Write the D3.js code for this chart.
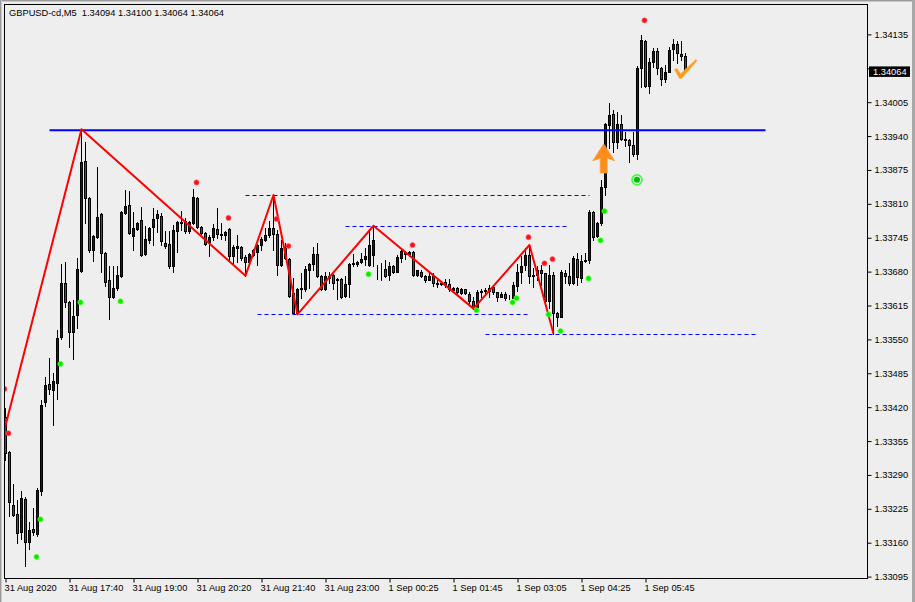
<!DOCTYPE html>
<html><head><meta charset="utf-8">
<script src="https://cdn.jsdelivr.net/npm/d3@7"></script>
<style>
html,body{margin:0;padding:0;background:#eeeeee;overflow:hidden;}
svg{display:block;}
text{font-family:"Liberation Sans",Arial,sans-serif;}
</style></head><body>
<svg id="c" width="915" height="602"></svg>
<script>
// ---------------- DATA ----------------
const titleText = "GBPUSD-cd,M5  1.34094 1.34100 1.34064 1.34064";
const opens = [
1.33402,1.33334,1.33233,1.33216,1.33181,1.33244,1.33161,1.33186,1.33176,1.33260,
1.33430,1.33465,1.33452,1.33466,1.33554,1.33659,1.33621,1.33565,1.33597,1.33682,
1.33892,1.33821,1.33722,1.33747,1.33791,1.33716,1.33664,1.33631,1.33648,1.33672,
1.33792,1.33807,1.33749,1.33761,1.33779,1.33714,1.33741,1.33765,1.33782,1.33787,
1.33735,1.33733,1.33691,1.33757,1.33774,1.33777,1.33757,1.33773,1.33821,1.33765,
1.33754,1.33736,1.33746,1.33761,1.33752,1.33750,1.33761,1.33709,1.33725,1.33727,
1.33708,1.33699,1.33712,1.33718,1.33731,1.33740,1.33751,1.33763,1.33752,1.33692,
1.33728,1.33704,1.33639,1.33601,1.33646,1.33646,1.33683,1.33695,1.33714,1.33672,
1.33646,1.33667,1.33674,1.33666,1.33665,1.33633,1.33656,1.33694,1.33695,1.33699,
1.33704,1.33692,1.33712,1.33687,1.33686,1.33685,1.33674,1.33690,1.33680,1.33706,
1.33718,1.33714,1.33718,1.33674,1.33680,1.33672,1.33664,1.33672,1.33658,1.33657,
1.33660,1.33656,1.33644,1.33648,1.33639,1.33646,1.33638,1.33623,1.33612,1.33641,
1.33643,1.33642,1.33650,1.33640,1.33632,1.33638,1.33629,1.33630,1.33653,1.33679,
1.33693,1.33711,1.33672,1.33673,1.33684,1.33677,1.33624,1.33674,1.33601,1.33593,
1.33678,1.33672,1.33659,1.33705,1.33668,1.33701,1.33702,1.33795,1.33748,1.33773,
1.33843,1.33961,1.33983,1.33928,1.33963,1.33934,1.33933,1.33922,1.33906,1.34070,
1.34122,1.34036,1.34083,1.34104,1.34070,1.34050,1.34063,1.34107,1.34116,1.34097,
1.34094];
const highs = [
1.33418,1.33336,1.33273,1.33242,1.33260,1.33247,1.33200,1.33227,1.33265,1.33434,
1.33477,1.33515,1.33486,1.33568,1.33695,1.33698,1.33623,1.33626,1.33706,1.33953,
1.33929,1.33823,1.33750,1.33880,1.33793,1.33718,1.33690,1.33690,1.33691,1.33796,
1.33837,1.33835,1.33795,1.33775,1.33804,1.33767,1.33765,1.33802,1.33799,1.33792,
1.33757,1.33757,1.33770,1.33777,1.33797,1.33783,1.33777,1.33839,1.33823,1.33768,
1.33756,1.33751,1.33772,1.33802,1.33773,1.33758,1.33763,1.33731,1.33751,1.33729,
1.33712,1.33716,1.33724,1.33733,1.33747,1.33763,1.33778,1.33827,1.33759,1.33741,
1.33735,1.33706,1.33667,1.33648,1.33677,1.33690,1.33696,1.33728,1.33735,1.33674,
1.33680,1.33680,1.33676,1.33668,1.33668,1.33671,1.33696,1.33714,1.33701,1.33716,
1.33725,1.33760,1.33768,1.33693,1.33696,1.33703,1.33699,1.33692,1.33712,1.33723,
1.33720,1.33720,1.33719,1.33684,1.33683,1.33673,1.33678,1.33677,1.33664,1.33662,
1.33666,1.33666,1.33651,1.33650,1.33648,1.33647,1.33640,1.33632,1.33644,1.33646,
1.33648,1.33655,1.33655,1.33641,1.33640,1.33640,1.33636,1.33661,1.33694,1.33709,
1.33725,1.33731,1.33687,1.33690,1.33693,1.33678,1.33693,1.33680,1.33603,1.33683,
1.33683,1.33696,1.33710,1.33715,1.33712,1.33715,1.33798,1.33797,1.33776,1.33856,
1.33965,1.34003,1.33990,1.33987,1.33981,1.33947,1.33935,1.33947,1.34074,1.34134,
1.34124,1.34089,1.34108,1.34108,1.34073,1.34076,1.34111,1.34126,1.34123,1.34123,
1.34100];
const lows = [
1.33319,1.33212,1.33212,1.33160,1.33167,1.33116,1.33148,1.33174,1.33172,1.33252,
1.33422,1.33446,1.33386,1.33436,1.33550,1.33613,1.33535,1.33512,1.33571,1.33680,
1.33773,1.33718,1.33701,1.33745,1.33680,1.33653,1.33590,1.33629,1.33645,1.33670,
1.33790,1.33753,1.33722,1.33759,1.33710,1.33712,1.33735,1.33731,1.33756,1.33731,
1.33725,1.33687,1.33680,1.33718,1.33760,1.33755,1.33754,1.33771,1.33763,1.33753,
1.33731,1.33709,1.33741,1.33744,1.33742,1.33741,1.33703,1.33696,1.33699,1.33703,
1.33672,1.33693,1.33710,1.33693,1.33722,1.33738,1.33746,1.33722,1.33673,1.33690,
1.33704,1.33632,1.33600,1.33598,1.33629,1.33642,1.33648,1.33683,1.33670,1.33644,
1.33645,1.33658,1.33646,1.33627,1.33630,1.33631,1.33632,1.33690,1.33690,1.33697,
1.33693,1.33690,1.33690,1.33666,1.33664,1.33670,1.33664,1.33677,1.33679,1.33698,
1.33704,1.33709,1.33672,1.33672,1.33669,1.33661,1.33663,1.33653,1.33651,1.33654,
1.33650,1.33642,1.33640,1.33636,1.33637,1.33637,1.33620,1.33609,1.33611,1.33632,
1.33638,1.33632,1.33637,1.33623,1.33631,1.33626,1.33627,1.33629,1.33642,1.33658,
1.33683,1.33659,1.33650,1.33664,1.33655,1.33616,1.33610,1.33561,1.33575,1.33592,
1.33658,1.33655,1.33657,1.33655,1.33661,1.33699,1.33697,1.33741,1.33746,1.33769,
1.33827,1.33917,1.33910,1.33917,1.33932,1.33920,1.33891,1.33901,1.33896,1.34035,
1.34034,1.34022,1.34073,1.34059,1.34038,1.34044,1.34062,1.34086,1.34080,1.34086,
1.34064];
const closes = [
1.33332,1.33239,1.33214,1.33178,1.33246,1.33162,1.33185,1.33181,1.33262,1.33424,
1.33463,1.33455,1.33470,1.33552,1.33659,1.33622,1.33564,1.33595,1.33685,1.33891,
1.33821,1.33722,1.33749,1.33784,1.33716,1.33661,1.33632,1.33648,1.33673,1.33794,
1.33805,1.33755,1.33763,1.33773,1.33712,1.33743,1.33763,1.33781,1.33791,1.33738,
1.33730,1.33691,1.33760,1.33775,1.33776,1.33757,1.33775,1.33823,1.33765,1.33755,
1.33733,1.33747,1.33763,1.33752,1.33750,1.33756,1.33709,1.33727,1.33729,1.33706,
1.33699,1.33714,1.33722,1.33731,1.33742,1.33751,1.33763,1.33752,1.33693,1.33725,
1.33706,1.33634,1.33601,1.33646,1.33648,1.33685,1.33694,1.33714,1.33672,1.33646,
1.33672,1.33672,1.33659,1.33663,1.33632,1.33656,1.33694,1.33697,1.33698,1.33704,
1.33709,1.33731,1.33741,1.33686,1.33687,1.33672,1.33691,1.33680,1.33708,1.33720,
1.33714,1.33718,1.33674,1.33683,1.33672,1.33663,1.33672,1.33658,1.33657,1.33658,
1.33655,1.33646,1.33648,1.33640,1.33646,1.33639,1.33623,1.33612,1.33640,1.33643,
1.33644,1.33648,1.33640,1.33632,1.33637,1.33629,1.33630,1.33655,1.33680,1.33691,
1.33711,1.33672,1.33673,1.33683,1.33677,1.33623,1.33674,1.33601,1.33593,1.33679,
1.33671,1.33658,1.33706,1.33669,1.33701,1.33703,1.33795,1.33747,1.33774,1.33842,
1.33963,1.33981,1.33928,1.33963,1.33934,1.33933,1.33922,1.33906,1.34070,1.34124,
1.34036,1.34083,1.34104,1.34070,1.34049,1.34063,1.34106,1.34116,1.34099,1.34094,
1.34064];

const timeTickIndex  = [0,16,32,48,64,80,96,112,128,144,160];
const timeTickLabels = ["31 Aug 2020","31 Aug 17:40","31 Aug 19:00","31 Aug 20:20","31 Aug 21:40",
  "31 Aug 23:00","1 Sep 00:25","1 Sep 01:45","1 Sep 03:05","1 Sep 04:25","1 Sep 05:45"];
const priceTicks = [1.34135,1.34070,1.34005,1.33940,1.33875,1.33810,1.33745,1.33680,1.33615,
  1.33550,1.33485,1.33420,1.33355,1.33290,1.33225,1.33160,1.33095];

const zigzagIndex = [-1,19,60,67,73,92,117,131,137];
const zigzagPrice = [1.33355,1.33953,1.33672,1.33827,1.33598,1.33768,1.33609,1.33731,1.33561];

const solidLineFrom = [11], solidLineTo = [190], solidLinePrice = [1.33951];
const dashFrom  = [60,85,63,120];
const dashTo    = [146,141,131,188];
const dashPrice = [1.33827,1.33768,1.33598,1.33561];

const redDotIndex = [0,1,48,56,68,71,102,131,135,137,160];
const redDotPrice = [1.33455,1.33370,1.33851,1.33783,1.33781,1.33729,1.33731,1.33746,1.33696,1.33704,1.34162];
const greenDotIndex = [8,9,14,19,29,91,118,127,128,136,139,146,149,150];
const greenDotPrice = [1.33133,1.33205,1.33503,1.33621,1.33623,1.33675,1.33606,1.33621,1.33629,1.33598,1.33566,1.33667,1.33740,1.33796];

const targetIndex = [158], targetPrice = [1.33856];
const upArrowIndex = [150], upArrowPrice = [1.33925];
const checkIndex = [170], checkPrice = [1.34086];

// ---------------- DRAW ----------------
const W = 915, H = 602;
const svg = d3.select("#c");
const n = closes.length;
const plotL = 4, plotT = 4, plotR = 867, plotB = 579;

const x = d3.scaleLinear().domain([0, n - 1]).range([5.5, 5.5 + 4 * (n - 1)]);
const y = d3.scaleLinear().domain([priceTicks[priceTicks.length - 1], priceTicks[0]]).range([576.6, 34.4]);

svg.append("rect").attr("width", W).attr("height", H).attr("fill", "#eeeeee");
// window edges
svg.append("rect").attr("x",0).attr("y",0).attr("width",W).attr("height",1).attr("fill","#9a9a9a");
svg.append("rect").attr("x",0).attr("y",1).attr("width",W).attr("height",1).attr("fill","#c9c9c9");
svg.append("rect").attr("x",0).attr("y",0).attr("width",1).attr("height",H).attr("fill","#9a9a9a");
svg.append("rect").attr("x",1).attr("y",0).attr("width",1).attr("height",H).attr("fill","#c9c9c9");
svg.append("rect").attr("x",912).attr("y",0).attr("width",3).attr("height",H).attr("fill","#a8a8a8");

svg.append("defs").append("clipPath").attr("id","plotclip")
  .append("rect").attr("x", plotL + 1).attr("y", plotT + 1)
  .attr("width", plotR - plotL - 1).attr("height", plotB - plotT - 1);

const g = svg.append("g").attr("clip-path","url(#plotclip)");

// candles
const bars = d3.range(n).map(i => ({i, o: opens[i], h: highs[i], l: lows[i], c: closes[i]}));
g.append("g").selectAll("line").data(bars).join("line")
  .attr("x1", d => x(d.i)).attr("x2", d => x(d.i))
  .attr("y1", d => Math.round(y(d.h))).attr("y2", d => Math.round(y(d.l)) + 1)
  .attr("stroke", "#000").attr("stroke-width", 1);
g.append("g").selectAll("rect").data(bars).join("rect")
  .attr("x", d => x(d.i) - 1)
  .attr("y", d => Math.round(y(Math.max(d.o, d.c))) + 0.5)
  .attr("width", 2)
  .attr("height", d => Math.max(0, Math.round(y(Math.min(d.o, d.c))) - Math.round(y(Math.max(d.o, d.c)))))
  .attr("fill", d => d.c >= d.o ? "#0000ff" : "#ff0000")
  .attr("stroke", "#000").attr("stroke-width", 1);

// solid blue level
g.selectAll("line.lvl").data(solidLinePrice).join("line").attr("class","lvl")
  .attr("x1", (d,i) => x(solidLineFrom[i])).attr("x2", (d,i) => x(solidLineTo[i]))
  .attr("y1", d => y(d)).attr("y2", d => y(d))
  .attr("stroke", "#0000ff").attr("stroke-width", 2);

// dashed levels
g.selectAll("line.dash").data(dashPrice).join("line").attr("class","dash")
  .attr("x1", (d,i) => x(dashFrom[i])).attr("x2", (d,i) => x(dashTo[i]))
  .attr("y1", d => Math.round(y(d)) + 0.5).attr("y2", d => Math.round(y(d)) + 0.5)
  .attr("stroke", "#0000ff").attr("stroke-width", 1).attr("stroke-dasharray", "4,3");

// zigzag
const zz = zigzagIndex.map((d,i) => [x(d), y(zigzagPrice[i])]);
g.append("path").attr("d", d3.line()(zz)).attr("fill","none")
  .attr("stroke","#ff0000").attr("stroke-width",2).attr("stroke-linejoin","round");

// dots
g.selectAll("circle.rd").data(redDotIndex).join("circle").attr("class","rd")
  .attr("cx", d => x(d) - 1).attr("cy", (d,i) => y(redDotPrice[i])).attr("r", 2.6)
  .attr("fill", "#ff1010").attr("stroke","#ff7090").attr("stroke-width",0.6);
g.selectAll("circle.gd").data(greenDotIndex).join("circle").attr("class","gd")
  .attr("cx", d => x(d) - 1).attr("cy", (d,i) => y(greenDotPrice[i])).attr("r", 2.6)
  .attr("fill", "#00ee00").attr("stroke","#80ff40").attr("stroke-width",0.6);

// target circle
targetIndex.forEach((d,i) => {
  const cx = x(d) - 0.5, cy = y(targetPrice[i]);
  g.append("circle").attr("cx",cx).attr("cy",cy).attr("r",5).attr("fill","none")
    .attr("stroke","#40ff40").attr("stroke-width",1.6);
  g.append("circle").attr("cx",cx).attr("cy",cy).attr("r",3).attr("fill","#00c000");
});

// up arrow
upArrowIndex.forEach((d,i) => {
  const ax = x(d) - 1.8, ay = y(upArrowPrice[i]);
  g.append("path")
    .attr("d", "M0,0 L11,17 L3.5,14 L3.5,29 L-3.5,29 L-3.5,14 L-11,17 Z")
    .attr("transform", `translate(${ax},${ay})`)
    .attr("fill", "#ff8c1a").attr("stroke","#ffa040").attr("stroke-width",0.8);
});

// check mark (filled, thicker at the bottom)
checkIndex.forEach((d,i) => {
  const cx = x(d), cy = y(checkPrice[i]);
  g.append("path")
    .attr("d", "M-11,9.5 L-8.5,8.5 L-5,14 L10.5,-0.5 L11.5,0.8 L-4,18.5 L-6,18.5 Z")
    .attr("transform", `translate(${cx},${cy})`)
    .attr("fill","#ff9a1a").attr("stroke","#ffb040").attr("stroke-width",0.8)
    .attr("stroke-linejoin","round");
});

// frame
svg.append("rect").attr("x", plotL + 0.5).attr("y", plotT + 0.5)
  .attr("width", plotR - plotL).attr("height", plotB - plotT - 1)
  .attr("fill","none").attr("stroke","#000").attr("stroke-width",1);

// axes
const lastC = closes[n - 1];
const ly = y(lastC);
const yAxis = d3.axisRight(y).tickValues(priceTicks)
  .tickFormat(d => Math.abs(y(d) - ly) < 8 ? "" : d3.format(".5f")(d))
  .tickSize(4).tickPadding(3);
const ya = svg.append("g").attr("transform", `translate(${plotR + 0.5},0)`).call(yAxis);
ya.select(".domain").remove();
ya.selectAll("text").attr("font-size", "9.3px").attr("font-family","Liberation Sans, Arial, sans-serif").attr("fill","#000");
ya.selectAll("line").attr("stroke","#000");

const xAxis = d3.axisBottom(x).tickValues(timeTickIndex).tickFormat((d,i) => timeTickLabels[i]).tickSize(4).tickPadding(2);
const xa = svg.append("g").attr("transform", `translate(0,${plotB - 0.5})`).call(xAxis);
xa.select(".domain").remove();
xa.selectAll("text").attr("text-anchor","start").attr("dx","-1.5")
  .attr("font-size", "9.3px").attr("font-family","Liberation Sans, Arial, sans-serif").attr("fill","#000");
xa.selectAll("line").attr("stroke","#000");

// current price label
svg.append("rect").attr("x", plotR + 2).attr("y", ly - 5).attr("width", 41).attr("height", 10.5).attr("fill","#000");
svg.append("text").attr("x", plotR + 6).attr("y", ly + 3.5).attr("fill","#fff")
  .attr("font-size","9.3px").text(d3.format(".5f")(lastC));

// title
svg.append("text").attr("x", 9).attr("y", 16).attr("font-size","9.3px").attr("fill","#000")
  .style("white-space","pre").text(titleText);
</script>
</body></html>
